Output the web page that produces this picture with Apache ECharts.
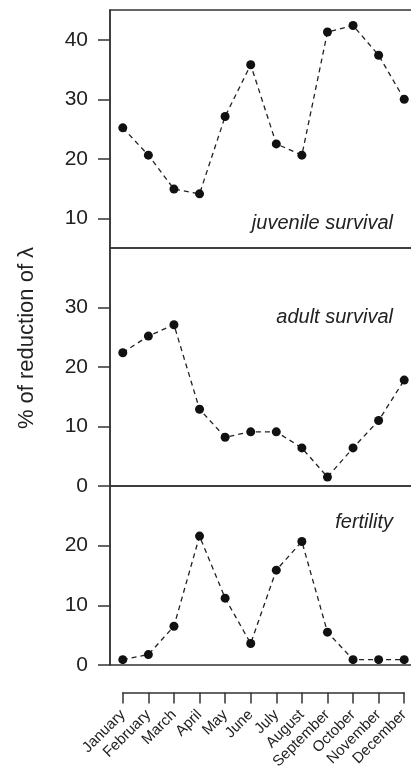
<!DOCTYPE html>
<html>
<head>
<meta charset="utf-8">
<script src="https://cdn.jsdelivr.net/npm/echarts@6/dist/echarts.min.js"></script>
<style>
  html, body { margin: 0; padding: 0; background: #fff; }
  #chart { width: 411px; height: 771px; }
</style>
</head>
<body>
<div id="chart"></div>
<script>
// months along the bottom
const months = ['January', 'February', 'March', 'April', 'May', 'June',
    'July', 'August', 'September', 'October', 'November', 'December'];

// % of reduction of lambda
const juvenileSurvival = [25.2, 20.6, 14.9, 14.1, 27.1, 35.8, 22.5, 20.6, 41.3, 42.4, 37.4, 30.0];
const adultSurvival = [22.4, 25.2, 27.1, 12.9, 8.2, 9.1, 9.1, 6.4, 1.5, 6.4, 11.0, 17.8];
const fertility = [0.9, 1.75, 6.5, 21.6, 11.2, 3.6, 15.9, 20.7, 5.5, 0.9, 0.9, 0.9];

// tick labels per panel
const juvenileTicks = [10, 20, 30, 40];
const adultTicks = [0, 10, 20, 30];
const fertilityTicks = [0, 10, 20];

const panelNames = ['juvenile survival', 'adult survival', 'fertility'];

const ink = '#222';
const axisColor = '#333';
const font = 'Liberation Sans, Arial, sans-serif';

const chart = echarts.init(document.getElementById('chart'), null, { renderer: 'canvas' });

// one panel grid (border draws the separators), runs past the right edge like the crop
const panelGrid = (top, height) => ({
    left: 110,
    top: top,
    width: 307,
    height: height,
    outerBoundsMode: 'none',
    containLabel: false,
    show: true,
    borderColor: axisColor,
    borderWidth: 1.5,
    backgroundColor: 'transparent'
});

const hiddenX = (gridIndex) => ({
    type: 'category',
    gridIndex: gridIndex,
    data: months,
    boundaryGap: true,
    axisLine: { show: false },
    axisTick: { show: false },
    axisLabel: { show: false },
    splitLine: { show: false }
});

const panelY = (gridIndex, min, max, ticks) => ({
    type: 'value',
    gridIndex: gridIndex,
    min: min,
    max: max,
    splitLine: { show: false },
    axisLine: { show: true, lineStyle: { color: axisColor, width: 1.5 } },
    axisTick: {
        show: true,
        length: 12,
        customValues: ticks,
        lineStyle: { color: axisColor, width: 1.5 }
    },
    axisLabel: {
        customValues: ticks,
        margin: 22,
        fontFamily: font,
        fontSize: 21,
        color: ink
    }
});

const panelSeries = (index, data) => ({
    type: 'line',
    xAxisIndex: index,
    yAxisIndex: index,
    data: data,
    symbol: 'circle',
    symbolSize: 9,
    itemStyle: { color: '#111' },
    lineStyle: { color: ink, width: 1.3, type: [5, 4] },
    silent: true
});

const panelTitle = (text, top) => ({
    text: text,
    right: 13,
    top: top,
    textStyle: {
        fontFamily: font,
        fontSize: 20,
        fontStyle: 'italic',
        fontWeight: 'normal',
        color: ink
    }
});

const option = {
    animation: false,
    backgroundColor: '#fff',
    title: [
        panelTitle(panelNames[0], 208),
        panelTitle(panelNames[1], 302),
        panelTitle(panelNames[2], 507)
    ],
    grid: [
        panelGrid(10, 238),
        panelGrid(248, 238),
        panelGrid(486, 179),
        // month axis sits below the last panel, from January to December only
        {
            left: 122.8, top: 682, width: 281.4, height: 10.5,
            outerBoundsMode: 'none', containLabel: false, show: false
        }
    ],
    xAxis: [
        hiddenX(0),
        hiddenX(1),
        hiddenX(2),
        {
            type: 'category',
            gridIndex: 3,
            data: months,
            boundaryGap: false,
            axisLine: { show: true, onZero: false, lineStyle: { color: axisColor, width: 1.5 } },
            axisTick: { show: true, length: 11, lineStyle: { color: axisColor, width: 1.5 } },
            axisLabel: {
                interval: 0,
                rotate: 45,
                margin: 20,
                fontFamily: font,
                fontSize: 15,
                color: ink
            }
        }
    ],
    yAxis: [
        panelY(0, 5, 45, juvenileTicks),
        panelY(1, 0, 40, adultTicks),
        panelY(2, 0, 30, fertilityTicks),
        {
            type: 'value', gridIndex: 3, show: false, min: 0, max: 1,
            axisLine: { show: false }, axisTick: { show: false },
            axisLabel: { show: false }, splitLine: { show: false }
        }
    ],
    graphic: [{
        type: 'text',
        x: 27,
        y: 338,
        rotation: Math.PI / 2,
        style: {
            text: '% of reduction of λ',
            fontFamily: font,
            fontSize: 22,
            fill: ink,
            align: 'center',
            verticalAlign: 'middle'
        }
    }],
    series: [
        panelSeries(0, juvenileSurvival),
        panelSeries(1, adultSurvival),
        panelSeries(2, fertility)
    ]
};

chart.setOption(option);
</script>
</body>
</html>
